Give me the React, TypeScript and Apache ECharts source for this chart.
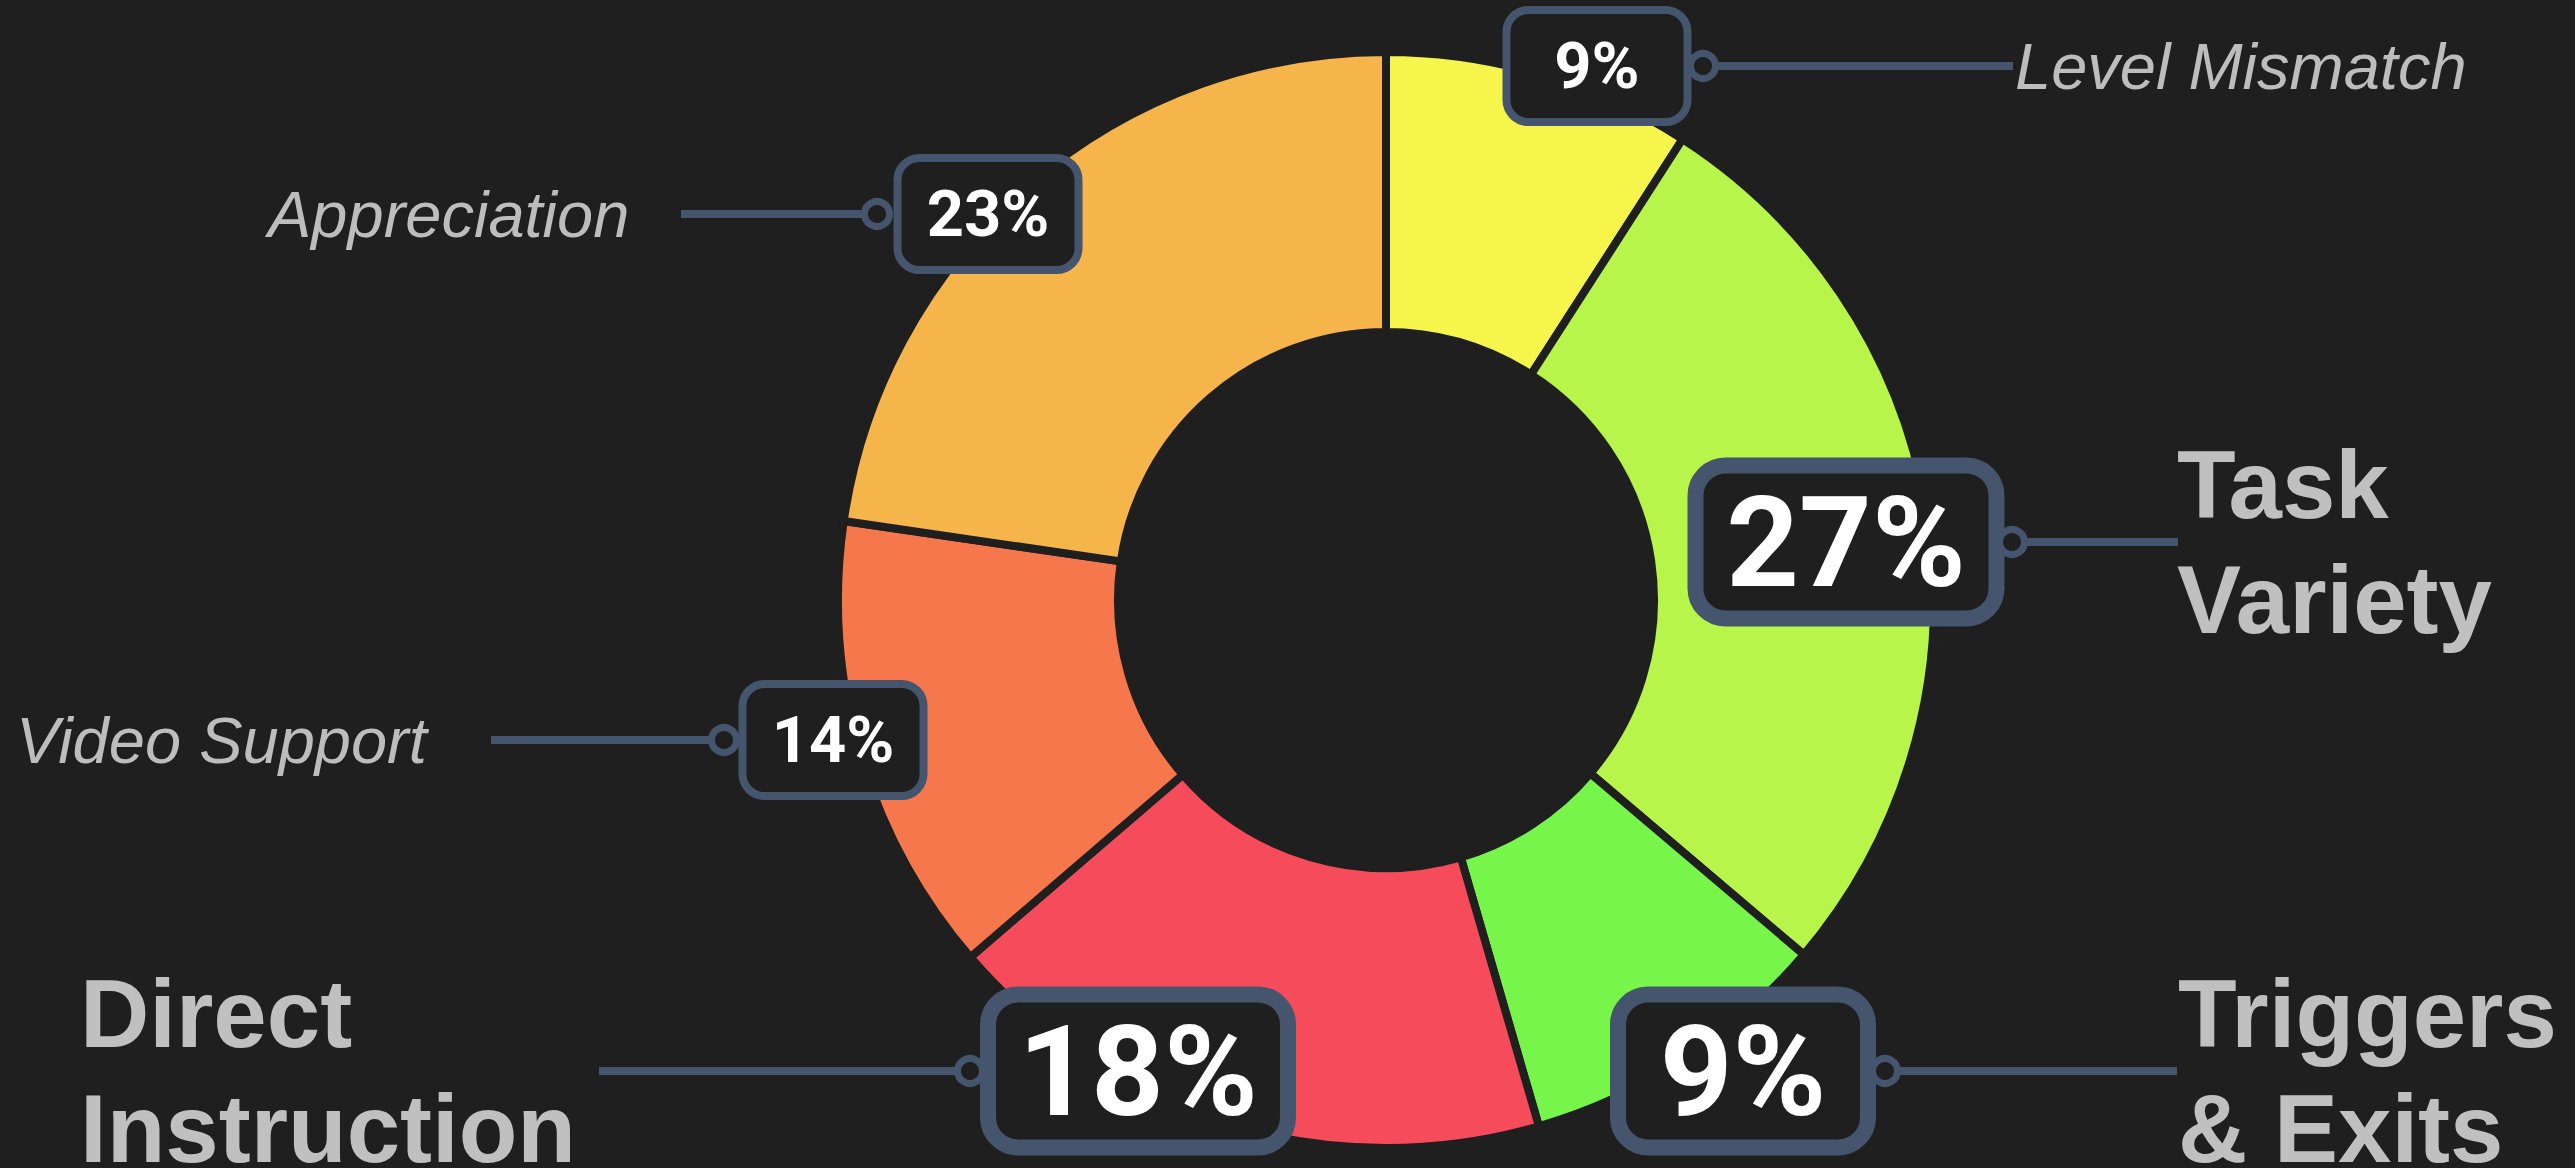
import { useEffect, useRef } from "react";
import * as echarts from "echarts";

// ---- data ----
const categories = [
  "Level Mismatch",
  "Task Variety",
  "Triggers & Exits",
  "Direct Instruction",
  "Video Support",
  "Appreciation",
];
// shares (labels show rounded values)
const values = [9.1, 27.1, 9.3, 18.2, 13.6, 22.7];
const nameLines = [
  ["Level Mismatch"],
  ["Task", "Variety"],
  ["Triggers", "& Exits"],
  ["Direct", "Instruction"],
  ["Video Support"],
  ["Appreciation"],
];
const highlighted = [false, true, true, true, false, false];

// ---- styles / layout ----
const BG = "#1f1f1f";
const SLATE = "#44556d";
const colors = ["#f5f54b", "#b8f54b", "#77f54b", "#f54b5a", "#f5774b", "#f5b54b"];
const boxCenters = [
  [1597, 66],
  [1846, 542],
  [1743, 1071],
  [1138, 1071],
  [833, 740],
  [988, 214],
];
const boxSizes = [
  [186, 115],
  [311, 161],
  [260, 161],
  [310, 161],
  [186, 115],
  [186, 115],
];
const connectorX = [1703, 2012, 1885, 970, 724, 877];
const leaderEndX = [2013, 2178, 2177, 599, 491, 681];
const nameX = [2015, 2177, 2178, 80, 16, 268];

export default function App() {
  const ref = useRef<HTMLDivElement>(null);

  useEffect(() => {
    if (!ref.current) return;
    const chart = echarts.init(ref.current, undefined, { renderer: "svg" });

    const data = categories.map((name, i) => {
      const big = highlighted[i];
      const bw = big ? 16 : 8;
      const shrinkW = big ? 10 : 5;
      const shrinkH = big ? 8 : 3;
      return {
        name,
        value: values[i],
        itemStyle: { color: colors[i] },
        label: {
          fontSize: big ? 127 : 65,
          width: boxSizes[i][0] - bw - shrinkW,
          lineHeight: boxSizes[i][1] - bw - shrinkH,
          borderWidth: bw,
          borderRadius: big ? 22 : 18,
        },
      };
    });

    const graphics: any[] = [];
    categories.forEach((_, i) => {
      const y = boxCenters[i][1];
      const big = highlighted[i];
      graphics.push({
        type: "line",
        z: 50,
        silent: true,
        shape: { x1: connectorX[i], y1: y, x2: leaderEndX[i], y2: y },
        style: { stroke: SLATE, lineWidth: 8 },
      });
      graphics.push({
        type: "circle",
        z: 60,
        silent: true,
        shape: { cx: connectorX[i], cy: y, r: 12.5 },
        style: { fill: BG, stroke: SLATE, lineWidth: 7 },
      });
      graphics.push({
        type: "text",
        z: 60,
        silent: true,
        x: nameX[i],
        y,
        style: {
          text: nameLines[i].join("\n"),
          fill: big ? "#c0c0c0" : "#bdbdbd",
          fontSize: big ? 96 : 65,
          lineHeight: big ? 115 : 70,
          fontFamily: "'Liberation Sans', Arial, sans-serif",
          fontWeight: big ? "bold" : "normal",
          fontStyle: big ? "normal" : "italic",
          align: "left",
          verticalAlign: "middle",
        },
      });
    });

    chart.setOption({
      animation: false,
      backgroundColor: BG,
      series: [
        {
          type: "pie",
          center: [1386, 600],
          radius: [268, 548],
          startAngle: 90,
          clockwise: true,
          avoidLabelOverlap: false,
          silent: true,
          itemStyle: { borderColor: BG, borderWidth: 8 },
          label: {
            show: true,
            position: "outside",
            formatter: (p: any) => `${Math.round(p.value)}%`,
            color: "#ffffff",
            fontFamily: "Roboto, 'Liberation Sans', sans-serif",
            fontWeight: "bold",
            backgroundColor: BG,
            borderColor: SLATE,
            padding: 0,
            align: "center",
            verticalAlign: "middle",
          },
          labelLine: { show: false },
          labelLayout: (params: any) => {
            const i = params.dataIndex;
            return {
              x: boxCenters[i][0],
              y: boxCenters[i][1],
              align: "center",
              verticalAlign: "middle",
            };
          },
          data,
        },
      ],
      graphic: graphics,
    });

    return () => chart.dispose();
  }, []);

  return (
    <div
      ref={ref}
      style={{
        position: "fixed",
        left: 0,
        top: 0,
        width: 2575,
        height: 1168,
        background: BG,
      }}
    />
  );
}
